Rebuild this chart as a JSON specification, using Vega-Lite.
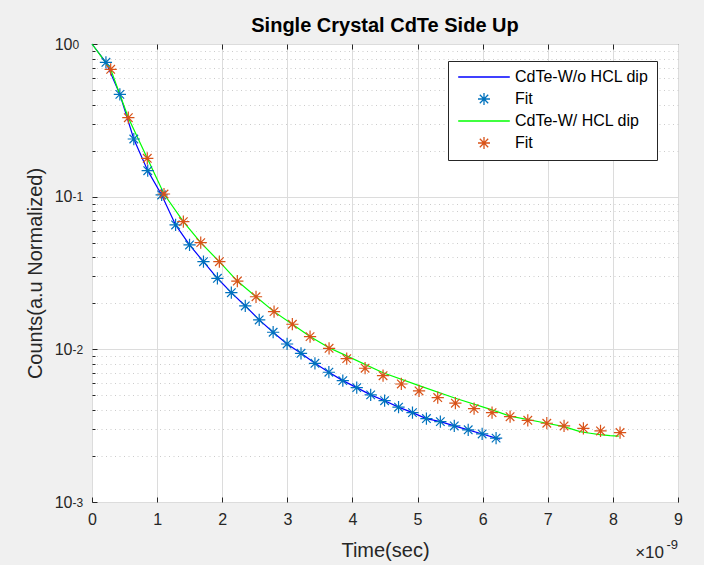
{
  "$schema": "https://vega.github.io/schema/vega-lite/v6.json",
  "width": 586,
  "height": 458,
  "autosize": {"type": "none"},
  "padding": {"left": 92, "top": 44, "right": 26, "bottom": 63},
  "background": "#f0f0f0",
  "title": {"text": "Single Crystal CdTe Side Up", "font": "Liberation Sans", "fontSize": 20, "fontWeight": "bold", "color": "#000000", "offset": 0, "anchor": "middle"},
  "config": {
    "view": {"fill": "white", "stroke": "#262626", "strokeWidth": 1},
    "axis": {"labelFont": "Liberation Sans", "titleFont": "Liberation Sans", "labelColor": "#262626", "titleColor": "#262626", "tickColor": "#262626", "titleFontWeight": "normal"}
  },
  "datasets": {
    "decay": [
      {"k": "line", "series": "CdTe-W/o HCL dip", "t": 0, "v": 1},
      {"k": "line", "series": "CdTe-W/o HCL dip", "t": 0.214, "v": 0.759},
      {"k": "line", "series": "CdTe-W/o HCL dip", "t": 0.428, "v": 0.468},
      {"k": "line", "series": "CdTe-W/o HCL dip", "t": 0.642, "v": 0.2386},
      {"k": "line", "series": "CdTe-W/o HCL dip", "t": 0.856, "v": 0.148},
      {"k": "line", "series": "CdTe-W/o HCL dip", "t": 1.07, "v": 0.1026},
      {"k": "line", "series": "CdTe-W/o HCL dip", "t": 1.284, "v": 0.0653},
      {"k": "line", "series": "CdTe-W/o HCL dip", "t": 1.498, "v": 0.0483},
      {"k": "line", "series": "CdTe-W/o HCL dip", "t": 1.712, "v": 0.0375},
      {"k": "line", "series": "CdTe-W/o HCL dip", "t": 1.926, "v": 0.0292},
      {"k": "line", "series": "CdTe-W/o HCL dip", "t": 2.14, "v": 0.0235},
      {"k": "line", "series": "CdTe-W/o HCL dip", "t": 2.354, "v": 0.01924},
      {"k": "line", "series": "CdTe-W/o HCL dip", "t": 2.568, "v": 0.01558},
      {"k": "line", "series": "CdTe-W/o HCL dip", "t": 2.782, "v": 0.01294},
      {"k": "line", "series": "CdTe-W/o HCL dip", "t": 2.996, "v": 0.01084},
      {"k": "line", "series": "CdTe-W/o HCL dip", "t": 3.21, "v": 0.00942},
      {"k": "line", "series": "CdTe-W/o HCL dip", "t": 3.424, "v": 0.0081},
      {"k": "line", "series": "CdTe-W/o HCL dip", "t": 3.638, "v": 0.00708},
      {"k": "line", "series": "CdTe-W/o HCL dip", "t": 3.852, "v": 0.00624},
      {"k": "line", "series": "CdTe-W/o HCL dip", "t": 4.066, "v": 0.00561},
      {"k": "line", "series": "CdTe-W/o HCL dip", "t": 4.28, "v": 0.00503},
      {"k": "line", "series": "CdTe-W/o HCL dip", "t": 4.494, "v": 0.00461},
      {"k": "line", "series": "CdTe-W/o HCL dip", "t": 4.708, "v": 0.00418},
      {"k": "line", "series": "CdTe-W/o HCL dip", "t": 4.922, "v": 0.00385},
      {"k": "line", "series": "CdTe-W/o HCL dip", "t": 5.136, "v": 0.00352},
      {"k": "line", "series": "CdTe-W/o HCL dip", "t": 5.35, "v": 0.00336},
      {"k": "line", "series": "CdTe-W/o HCL dip", "t": 5.564, "v": 0.00315},
      {"k": "line", "series": "CdTe-W/o HCL dip", "t": 5.778, "v": 0.00297},
      {"k": "line", "series": "CdTe-W/o HCL dip", "t": 5.992, "v": 0.00279},
      {"k": "line", "series": "CdTe-W/o HCL dip", "t": 6.206, "v": 0.00262},
      {"k": "line", "series": "CdTe-W/o HCL dip", "t": 6.27, "v": 0.00258},
      {"k": "fit", "series": "Fit (W/o HCL dip)", "t": 0.214, "v": 0.759},
      {"k": "fit", "series": "Fit (W/o HCL dip)", "t": 0.428, "v": 0.468},
      {"k": "fit", "series": "Fit (W/o HCL dip)", "t": 0.642, "v": 0.2386},
      {"k": "fit", "series": "Fit (W/o HCL dip)", "t": 0.856, "v": 0.148},
      {"k": "fit", "series": "Fit (W/o HCL dip)", "t": 1.07, "v": 0.1026},
      {"k": "fit", "series": "Fit (W/o HCL dip)", "t": 1.284, "v": 0.0653},
      {"k": "fit", "series": "Fit (W/o HCL dip)", "t": 1.498, "v": 0.0483},
      {"k": "fit", "series": "Fit (W/o HCL dip)", "t": 1.712, "v": 0.0375},
      {"k": "fit", "series": "Fit (W/o HCL dip)", "t": 1.926, "v": 0.0292},
      {"k": "fit", "series": "Fit (W/o HCL dip)", "t": 2.14, "v": 0.0235},
      {"k": "fit", "series": "Fit (W/o HCL dip)", "t": 2.354, "v": 0.01924},
      {"k": "fit", "series": "Fit (W/o HCL dip)", "t": 2.568, "v": 0.01558},
      {"k": "fit", "series": "Fit (W/o HCL dip)", "t": 2.782, "v": 0.01294},
      {"k": "fit", "series": "Fit (W/o HCL dip)", "t": 2.996, "v": 0.01084},
      {"k": "fit", "series": "Fit (W/o HCL dip)", "t": 3.21, "v": 0.00942},
      {"k": "fit", "series": "Fit (W/o HCL dip)", "t": 3.424, "v": 0.0081},
      {"k": "fit", "series": "Fit (W/o HCL dip)", "t": 3.638, "v": 0.00708},
      {"k": "fit", "series": "Fit (W/o HCL dip)", "t": 3.852, "v": 0.00624},
      {"k": "fit", "series": "Fit (W/o HCL dip)", "t": 4.066, "v": 0.00561},
      {"k": "fit", "series": "Fit (W/o HCL dip)", "t": 4.28, "v": 0.00503},
      {"k": "fit", "series": "Fit (W/o HCL dip)", "t": 4.494, "v": 0.00461},
      {"k": "fit", "series": "Fit (W/o HCL dip)", "t": 4.708, "v": 0.00418},
      {"k": "fit", "series": "Fit (W/o HCL dip)", "t": 4.922, "v": 0.00385},
      {"k": "fit", "series": "Fit (W/o HCL dip)", "t": 5.136, "v": 0.00352},
      {"k": "fit", "series": "Fit (W/o HCL dip)", "t": 5.35, "v": 0.00336},
      {"k": "fit", "series": "Fit (W/o HCL dip)", "t": 5.564, "v": 0.00315},
      {"k": "fit", "series": "Fit (W/o HCL dip)", "t": 5.778, "v": 0.00297},
      {"k": "fit", "series": "Fit (W/o HCL dip)", "t": 5.992, "v": 0.00279},
      {"k": "fit", "series": "Fit (W/o HCL dip)", "t": 6.206, "v": 0.00262},
      {"k": "line", "series": "CdTe-W/ HCL dip", "t": 0, "v": 1},
      {"k": "line", "series": "CdTe-W/ HCL dip", "t": 0.287, "v": 0.683},
      {"k": "line", "series": "CdTe-W/ HCL dip", "t": 0.558, "v": 0.329},
      {"k": "line", "series": "CdTe-W/ HCL dip", "t": 0.849, "v": 0.1784},
      {"k": "line", "series": "CdTe-W/ HCL dip", "t": 1.106, "v": 0.1041},
      {"k": "line", "series": "CdTe-W/ HCL dip", "t": 1.403, "v": 0.0686},
      {"k": "line", "series": "CdTe-W/ HCL dip", "t": 1.67, "v": 0.05},
      {"k": "line", "series": "CdTe-W/ HCL dip", "t": 1.956, "v": 0.0375},
      {"k": "line", "series": "CdTe-W/ HCL dip", "t": 2.232, "v": 0.028},
      {"k": "line", "series": "CdTe-W/ HCL dip", "t": 2.519, "v": 0.0221},
      {"k": "line", "series": "CdTe-W/ HCL dip", "t": 2.796, "v": 0.01766},
      {"k": "line", "series": "CdTe-W/ HCL dip", "t": 3.077, "v": 0.0146},
      {"k": "line", "series": "CdTe-W/ HCL dip", "t": 3.349, "v": 0.01215},
      {"k": "line", "series": "CdTe-W/ HCL dip", "t": 3.641, "v": 0.01025},
      {"k": "line", "series": "CdTe-W/ HCL dip", "t": 3.912, "v": 0.00906},
      {"k": "line", "series": "CdTe-W/ HCL dip", "t": 4.47, "v": 0.00703},
      {"k": "line", "series": "CdTe-W/ HCL dip", "t": 5.023, "v": 0.00578},
      {"k": "line", "series": "CdTe-W/ HCL dip", "t": 5.581, "v": 0.00478},
      {"k": "line", "series": "CdTe-W/ HCL dip", "t": 6.144, "v": 0.00401},
      {"k": "line", "series": "CdTe-W/ HCL dip", "t": 6.421, "v": 0.00365},
      {"k": "line", "series": "CdTe-W/ HCL dip", "t": 6.985, "v": 0.00328},
      {"k": "line", "series": "CdTe-W/ HCL dip", "t": 7.25, "v": 0.00312},
      {"k": "line", "series": "CdTe-W/ HCL dip", "t": 7.496, "v": 0.00289},
      {"k": "line", "series": "CdTe-W/ HCL dip", "t": 7.65, "v": 0.00282},
      {"k": "line", "series": "CdTe-W/ HCL dip", "t": 7.8, "v": 0.00276},
      {"k": "line", "series": "CdTe-W/ HCL dip", "t": 7.957, "v": 0.00272},
      {"k": "line", "series": "CdTe-W/ HCL dip", "t": 8.09, "v": 0.0027},
      {"k": "fit", "series": "Fit (W/ HCL dip)", "t": 0.287, "v": 0.683},
      {"k": "fit", "series": "Fit (W/ HCL dip)", "t": 0.558, "v": 0.329},
      {"k": "fit", "series": "Fit (W/ HCL dip)", "t": 0.849, "v": 0.1784},
      {"k": "fit", "series": "Fit (W/ HCL dip)", "t": 1.106, "v": 0.1041},
      {"k": "fit", "series": "Fit (W/ HCL dip)", "t": 1.403, "v": 0.0686},
      {"k": "fit", "series": "Fit (W/ HCL dip)", "t": 1.67, "v": 0.05},
      {"k": "fit", "series": "Fit (W/ HCL dip)", "t": 1.956, "v": 0.0375},
      {"k": "fit", "series": "Fit (W/ HCL dip)", "t": 2.232, "v": 0.028},
      {"k": "fit", "series": "Fit (W/ HCL dip)", "t": 2.519, "v": 0.0221},
      {"k": "fit", "series": "Fit (W/ HCL dip)", "t": 2.796, "v": 0.01766},
      {"k": "fit", "series": "Fit (W/ HCL dip)", "t": 3.077, "v": 0.0146},
      {"k": "fit", "series": "Fit (W/ HCL dip)", "t": 3.349, "v": 0.01211},
      {"k": "fit", "series": "Fit (W/ HCL dip)", "t": 3.641, "v": 0.01016},
      {"k": "fit", "series": "Fit (W/ HCL dip)", "t": 3.912, "v": 0.00869},
      {"k": "fit", "series": "Fit (W/ HCL dip)", "t": 4.194, "v": 0.00752},
      {"k": "fit", "series": "Fit (W/ HCL dip)", "t": 4.47, "v": 0.00672},
      {"k": "fit", "series": "Fit (W/ HCL dip)", "t": 4.751, "v": 0.00593},
      {"k": "fit", "series": "Fit (W/ HCL dip)", "t": 5.023, "v": 0.00534},
      {"k": "fit", "series": "Fit (W/ HCL dip)", "t": 5.31, "v": 0.00483},
      {"k": "fit", "series": "Fit (W/ HCL dip)", "t": 5.581, "v": 0.00444},
      {"k": "fit", "series": "Fit (W/ HCL dip)", "t": 5.868, "v": 0.00409},
      {"k": "fit", "series": "Fit (W/ HCL dip)", "t": 6.144, "v": 0.00385},
      {"k": "fit", "series": "Fit (W/ HCL dip)", "t": 6.421, "v": 0.00362},
      {"k": "fit", "series": "Fit (W/ HCL dip)", "t": 6.693, "v": 0.00343},
      {"k": "fit", "series": "Fit (W/ HCL dip)", "t": 6.985, "v": 0.00328},
      {"k": "fit", "series": "Fit (W/ HCL dip)", "t": 7.25, "v": 0.00315},
      {"k": "fit", "series": "Fit (W/ HCL dip)", "t": 7.547, "v": 0.00304},
      {"k": "fit", "series": "Fit (W/ HCL dip)", "t": 7.81, "v": 0.00292},
      {"k": "fit", "series": "Fit (W/ HCL dip)", "t": 8.11, "v": 0.00285}
    ]
  },
  "data": {"name": "decay"},
  "resolve": {"axis": {"y": "independent", "x": "independent"}},
  "layer": [
    {
      "transform": [{"filter": "datum.k == 'line'"}],
      "mark": {"type": "line", "strokeWidth": 1.2},
      "encoding": {
        "x": {"field": "t", "type": "quantitative", "scale": {"domain": [0, 9], "nice": false, "zero": false},
          "axis": {"orient": "bottom", "values": [0, 1, 2, 3, 4, 5, 6, 7, 8, 9], "format": "d", "labelFontSize": 16, "labelAngle": 0, "labelFlush": false, "labelPadding": 14, "tickSize": -5, "domain": false, "grid": true, "gridColor": "#dcdcdc", "gridWidth": 1, "title": "Time(sec)", "titleFontSize": 20, "titlePadding": 13}},
        "y": {"field": "v", "type": "quantitative", "scale": {"type": "log", "domain": [0.001, 1], "nice": false},
          "axis": {"orient": "left", "values": [0.001, 0.01, 0.1, 1], "labelExpr": "'10'", "labelFontSize": 16, "labelPadding": 25, "tickSize": -5, "domain": false, "grid": true, "gridColor": "#dcdcdc", "gridWidth": 1, "title": "Counts(a.u Normalized)", "titleFontSize": 20, "titlePadding": 9}},
        "color": {"field": "series", "type": "nominal",
          "scale": {"domain": ["CdTe-W/o HCL dip", "Fit (W/o HCL dip)", "CdTe-W/ HCL dip", "Fit (W/ HCL dip)"], "range": ["#0000ff", "#0072bd", "#00ff00", "#d95319"]},
          "legend": {"orient": "none", "legendX": 356, "legendY": 17, "title": null, "fillColor": "white", "strokeColor": "#262626", "padding": 8, "labelFont": "Liberation Sans", "labelFontSize": 16, "labelColor": "#000000", "symbolSize": 144, "symbolStrokeWidth": 1.3, "symbolOffset": 20, "labelOffset": 23, "rowPadding": 5, "labelExpr": "indexof(datum.label, 'Fit') == 0 ? 'Fit' : datum.label"}}
      }
    },
    {
      "transform": [{"filter": "datum.k == 'fit'"}],
      "mark": {"type": "point", "filled": false, "strokeWidth": 1.2, "size": 150, "opacity": 1},
      "encoding": {
        "x": {"field": "t", "type": "quantitative", "axis": {"orient": "top", "values": [1, 2, 3, 4, 5, 6, 7, 8], "labels": false, "tickSize": -5, "domain": false, "grid": false, "title": null}},
        "y": {"field": "v", "type": "quantitative",
          "axis": {"orient": "left", "values": [0.002, 0.003, 0.004, 0.005, 0.006, 0.007, 0.008, 0.009, 0.02, 0.03, 0.04, 0.05, 0.06, 0.07, 0.08, 0.09, 0.2, 0.3, 0.4, 0.5, 0.6, 0.7, 0.8, 0.9], "labels": false, "tickSize": -3, "domain": false, "grid": true, "gridColor": "#cccccc", "gridDash": [1, 3.5], "gridWidth": 1, "title": null}},
        "color": {"field": "series", "type": "nominal"},
        "shape": {"field": "series", "type": "nominal",
          "scale": {"domain": ["CdTe-W/o HCL dip", "Fit (W/o HCL dip)", "CdTe-W/ HCL dip", "Fit (W/ HCL dip)"], "range": ["M-4.3,0L4.3,0", "M-1,0L1,0M0,-1L0,1M-0.7,-0.7L0.7,0.7M-0.7,0.7L0.7,-0.7", "M-4.3,0L4.3,0", "M-1,0L1,0M0,-1L0,1M-0.7,-0.7L0.7,0.7M-0.7,0.7L0.7,-0.7"]}}
      }
    },
    {
      "data": {"values": [{"label": "×10"}]},
      "mark": {"type": "text", "align": "right", "baseline": "alphabetic", "dy": 56, "dx": -14, "fontSize": 17, "font": "Liberation Sans", "color": "#262626"},
      "encoding": {
        "x": {"datum": 9, "axis": null},
        "y": {"datum": 0.001, "axis": {"orient": "left", "values": [0.001, 0.01, 0.1, 1], "labelExpr": "datum.value >= 0.5 ? '0' : datum.value >= 0.05 ? '-1' : datum.value >= 0.005 ? '-2' : '-3'", "labelFont": "Liberation Sans", "labelFontSize": 12, "labelAlign": "left", "labelDy": -7, "labelPadding": 20, "ticks": false, "domain": false, "grid": false, "title": null}},
        "text": {"field": "label"}
      }
    },
    {
      "data": {"values": [{"label": "-9"}]},
      "mark": {"type": "text", "align": "right", "baseline": "alphabetic", "dy": 47, "dx": 0, "fontSize": 13, "font": "Liberation Sans", "color": "#262626"},
      "encoding": {
        "x": {"datum": 9, "axis": null},
        "y": {"datum": 0.001, "axis": null},
        "text": {"field": "label"}
      }
    }
  ]
}
